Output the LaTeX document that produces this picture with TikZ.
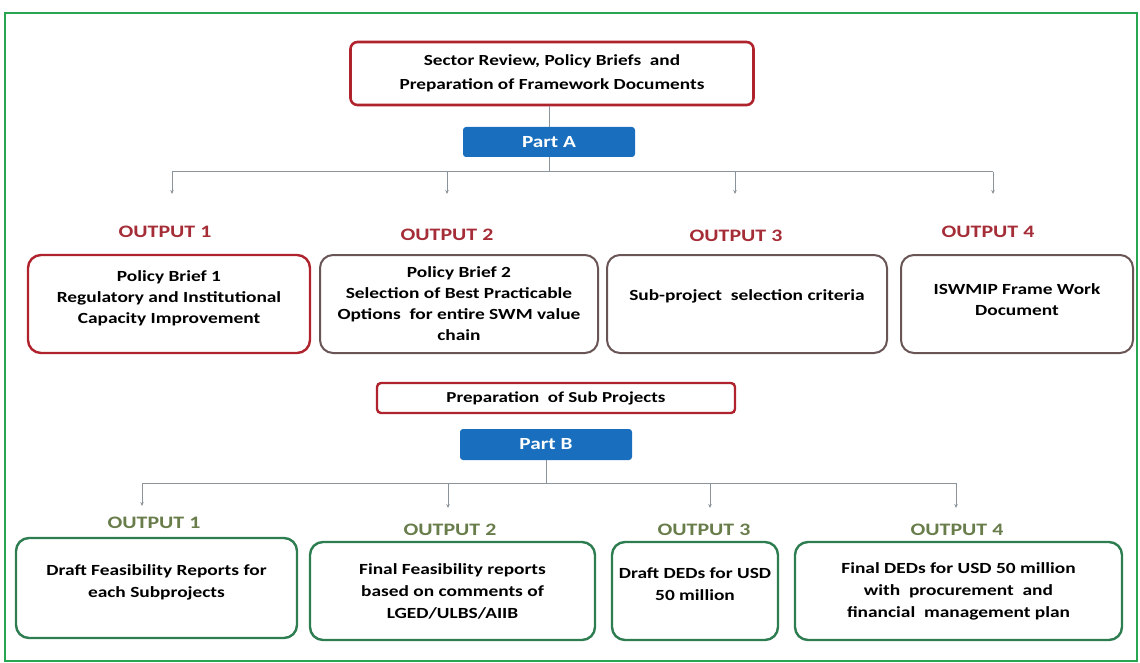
\documentclass[tikz,border=0pt]{standalone}
\usepackage{fontspec}
\setmainfont[FakeStretch=1.25]{Carlito}
\usetikzlibrary{arrows.meta}
\definecolor{FrameGreen}{RGB}{40,165,80}
\definecolor{HeadRed}{RGB}{175,35,45}
\definecolor{PartBlue}{RGB}{25,110,190}
\definecolor{OutRed}{RGB}{165,45,55}
\definecolor{OutOlive}{RGB}{105,125,75}
\definecolor{BoxGray}{RGB}{105,85,85}
\definecolor{BoxGreen}{RGB}{45,125,80}
\definecolor{LinkGray}{RGB}{140,148,155}
\tikzset{
  head/.style={draw=HeadRed,line width=2.6pt,rounded corners=7pt,fill=white,align=center,inner sep=0pt,
    font=\bfseries\fontsize{15.4}{24}\selectfont},
  part/.style={fill=PartBlue,text=white,rounded corners=3pt,inner sep=0pt,
    font=\bfseries\fontsize{17}{20}\selectfont},
  outa/.style={text=OutRed,font=\bfseries\fontsize{17.5}{20}\selectfont},
  outb/.style={text=OutOlive,font=\bfseries\fontsize{17.5}{20}\selectfont},
  card/.style={draw=BoxGray,line width=2pt,rounded corners=13pt,align=center,inner sep=0pt,
    font=\bfseries\fontsize{15.5}{21}\selectfont},
  cardg/.style={card,draw=BoxGreen,line width=2.4pt,font=\bfseries\fontsize{15.5}{22}\selectfont},
  link/.style={draw=LinkGray,line width=1pt},
  arr/.style={link,-{Stealth[length=4pt,width=3.5pt]}},
}

\begin{document}
\begin{tikzpicture}[x=1pt,y=-1pt]
\useasboundingbox (0,0) rectangle (1140,663);
\draw[FrameGreen,line width=1.5pt] (5,13) rectangle (1137,661);
\node[head,minimum width=403pt,minimum height=63pt] (top) at (552,73.5)
  {\mbox{}\\[-14pt]Sector Review, Policy Briefs\ \ and\\Preparation\ of Framework Documents};
\node[part,minimum width=172pt,minimum height=30pt] (pa) at (549,142) {Part A};
\coordinate (ba) at (549,172);
\coordinate (ba1) at (172,172);
\coordinate (ba2) at (447,172);
\coordinate (ba3) at (735,172);
\coordinate (ba4) at (993,172);
\coordinate (ta1) at (172,194);
\coordinate (ta2) at (447,194);
\coordinate (ta3) at (735,194);
\coordinate (ta4) at (993,194);
\draw[link] (pa) -- (pa |- top.south);
\draw[link] (pa) -- (ba);
\draw[link] (ba1) -- (ba4);
\draw[arr] (ba1) -- (ta1);
\draw[arr] (ba2) -- (ta2);
\draw[arr] (ba3) -- (ta3);
\draw[arr] (ba4) -- (ta4);
\node[outa] (oa1) at (165,232) {OUTPUT 1};
\node[outa] (oa2) at (447,235) {OUTPUT 2};
\node[outa] (oa3) at (736,236) {OUTPUT 3};
\node[outa] (oa4) at (988,232) {OUTPUT 4};
\node[card,draw=HeadRed,line width=2.4pt,minimum width=282pt,minimum height=98pt] (a1) at (169,304)
  {Policy Brief 1\\Regulatory and Institutional\\Capacity Improvement\\[-8pt]\mbox{}};
\node[card,minimum width=278pt,minimum height=98pt] (a2) at (459,304)
  {Policy Brief 2\\Selection of Best Practicable\\Options\ \ for entire SWM value\\chain};
\node[card,minimum width=280pt,minimum height=98pt] (a3) at (747,304)
  {Sub-project\ \ selection criteria\\[-4pt]\mbox{}};
\node[card,minimum width=232pt,minimum height=98pt] (a4) at (1017,304)
  {ISWMIP Frame Work\\Document\\[-13pt]\mbox{}};
\node[head,line width=2.4pt,rounded corners=4pt,minimum width=358pt,minimum height=30pt,
  font=\bfseries\fontsize{15.2}{20}\selectfont] (sub) at (556,398)
  {Preparation\ \ of Sub Projects};
\node[part,minimum width=172pt,minimum height=31pt] (pb) at (546,444.5) {Part B};
\coordinate (bb) at (546,483);
\coordinate (bb1) at (142,483);
\coordinate (bb2) at (448,483);
\coordinate (bb3) at (710,483);
\coordinate (bb4) at (956,483);
\coordinate (tb1) at (142,506);
\coordinate (tb2) at (448,508);
\coordinate (tb3) at (710,508);
\coordinate (tb4) at (956,508);
\draw[link] (pb) -- (bb);
\draw[link] (bb1) -- (bb4);
\draw[arr] (bb1) -- (tb1);
\draw[arr] (bb2) -- (tb2);
\draw[arr] (bb3) -- (tb3);
\draw[arr] (bb4) -- (tb4);
\node[outb] (ob1) at (154,523) {OUTPUT 1};
\node[outb] (ob2) at (450,530) {OUTPUT 2};
\node[outb] (ob3) at (704,530) {OUTPUT 3};
\node[outb] (ob4) at (957,530) {OUTPUT 4};
\node[cardg,minimum width=281pt,minimum height=100pt] (b1) at (156.5,588)
  {Draft Feasibility Reports for\\each Subprojects\\[-9pt]\mbox{}};
\node[cardg,minimum width=285pt,minimum height=98pt] (b2) at (452.5,591)
  {Final Feasibility reports\\based on comments of\\LGED/ULBS/AIIB};
\node[cardg,minimum width=166pt,minimum height=98pt] (b3) at (695,591)
  {Draft DEDs\ for USD\\50 million\\[-9pt]\mbox{}};
\node[cardg,minimum width=327pt,minimum height=98pt] (b4) at (958.5,591)
  {Final DEDs for USD 50 million\\with\ \ procurement\ \ and\\financial\ \ management plan};
\end{tikzpicture}
\end{document}
